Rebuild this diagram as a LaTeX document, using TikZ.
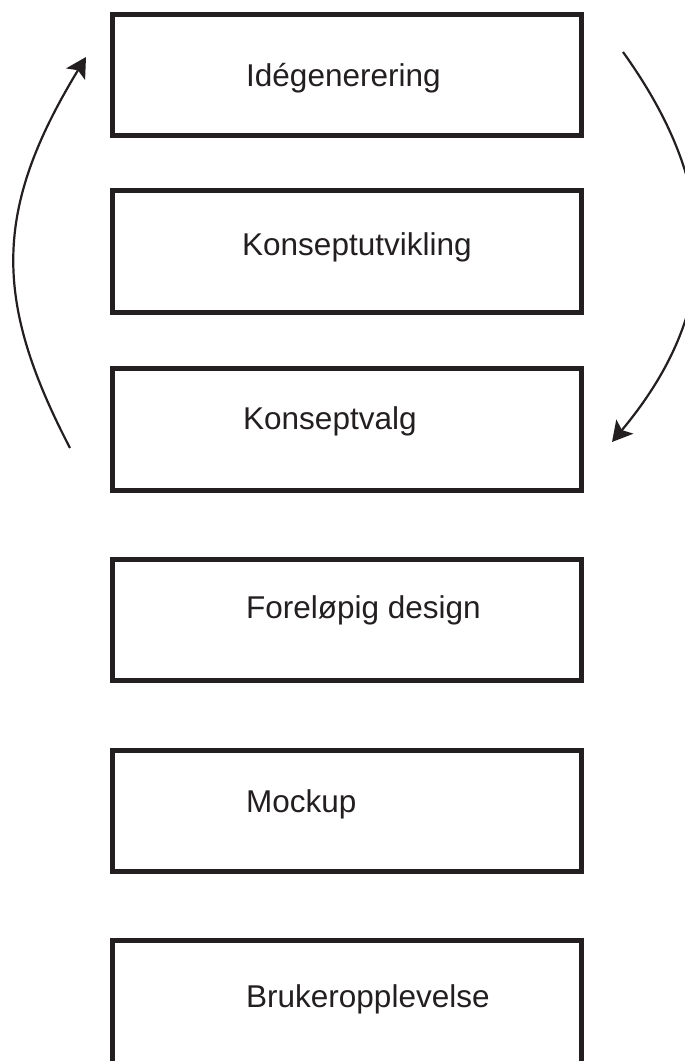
\documentclass[tikz,border=0pt]{standalone}
\usepackage{fontspec}
\setmainfont{Liberation Sans}
\usetikzlibrary{arrows.meta}
\definecolor{ink}{HTML}{231F20}
\begin{document}
\begin{tikzpicture}[x=1pt,y=-1pt,
  stagebox/.style={draw=ink,line width=5pt,rectangle,inner sep=0pt,
    minimum width=469pt,minimum height=121.5pt},
  stagelabel/.style={anchor=base west,inner sep=0pt,text=ink,
    font=\fontsize{31.5pt}{36pt}\selectfont},
  looparrow/.style={draw=ink,line width=2.2pt,
    -{Stealth[length=20pt,width=22pt,inset=4.5pt]}}]
  % page frame
  \clip (0,0) rectangle (685,1061);
  \fill[white] (0,0) rectangle (685,1061);

  % process stages
  \node[stagebox] (b1) at (347,75)    {};
  \node[stagebox] (b2) at (347,251.5) {};
  \node[stagebox] (b3) at (347,429.5) {};
  \node[stagebox] (b4) at (347,620)   {};
  \node[stagebox] (b5) at (347,811)   {};
  \node[stagebox,minimum height=128pt] (b6) at (347,1004) {};

  \node[stagelabel] (t1) at (246,86)   {Idégenerering};
  \node[stagelabel] (t2) at (242,255)  {Konseptutvikling};
  \node[stagelabel] (t3) at (243,429)  {Konseptvalg};
  \node[stagelabel] (t4) at (246,618)  {Foreløpig design};
  \node[stagelabel] (t5) at (246,812)  {Mockup};
  \node[stagelabel] (t6) at (246,1007) {Brukeropplevelse};

  % iteration loop between the first three stages
  \coordinate (lstart) at (70,448);
  \coordinate (lend)   at (86,57);
  \coordinate (rstart) at (623,52);
  \coordinate (rend)   at (612,442);

  \draw[looparrow] (lstart) .. controls (-7,300) and (-7,210) .. (lend);
  \draw[looparrow] (rstart) .. controls (722,190) and (722,310) .. (rend);
\end{tikzpicture}
\end{document}
